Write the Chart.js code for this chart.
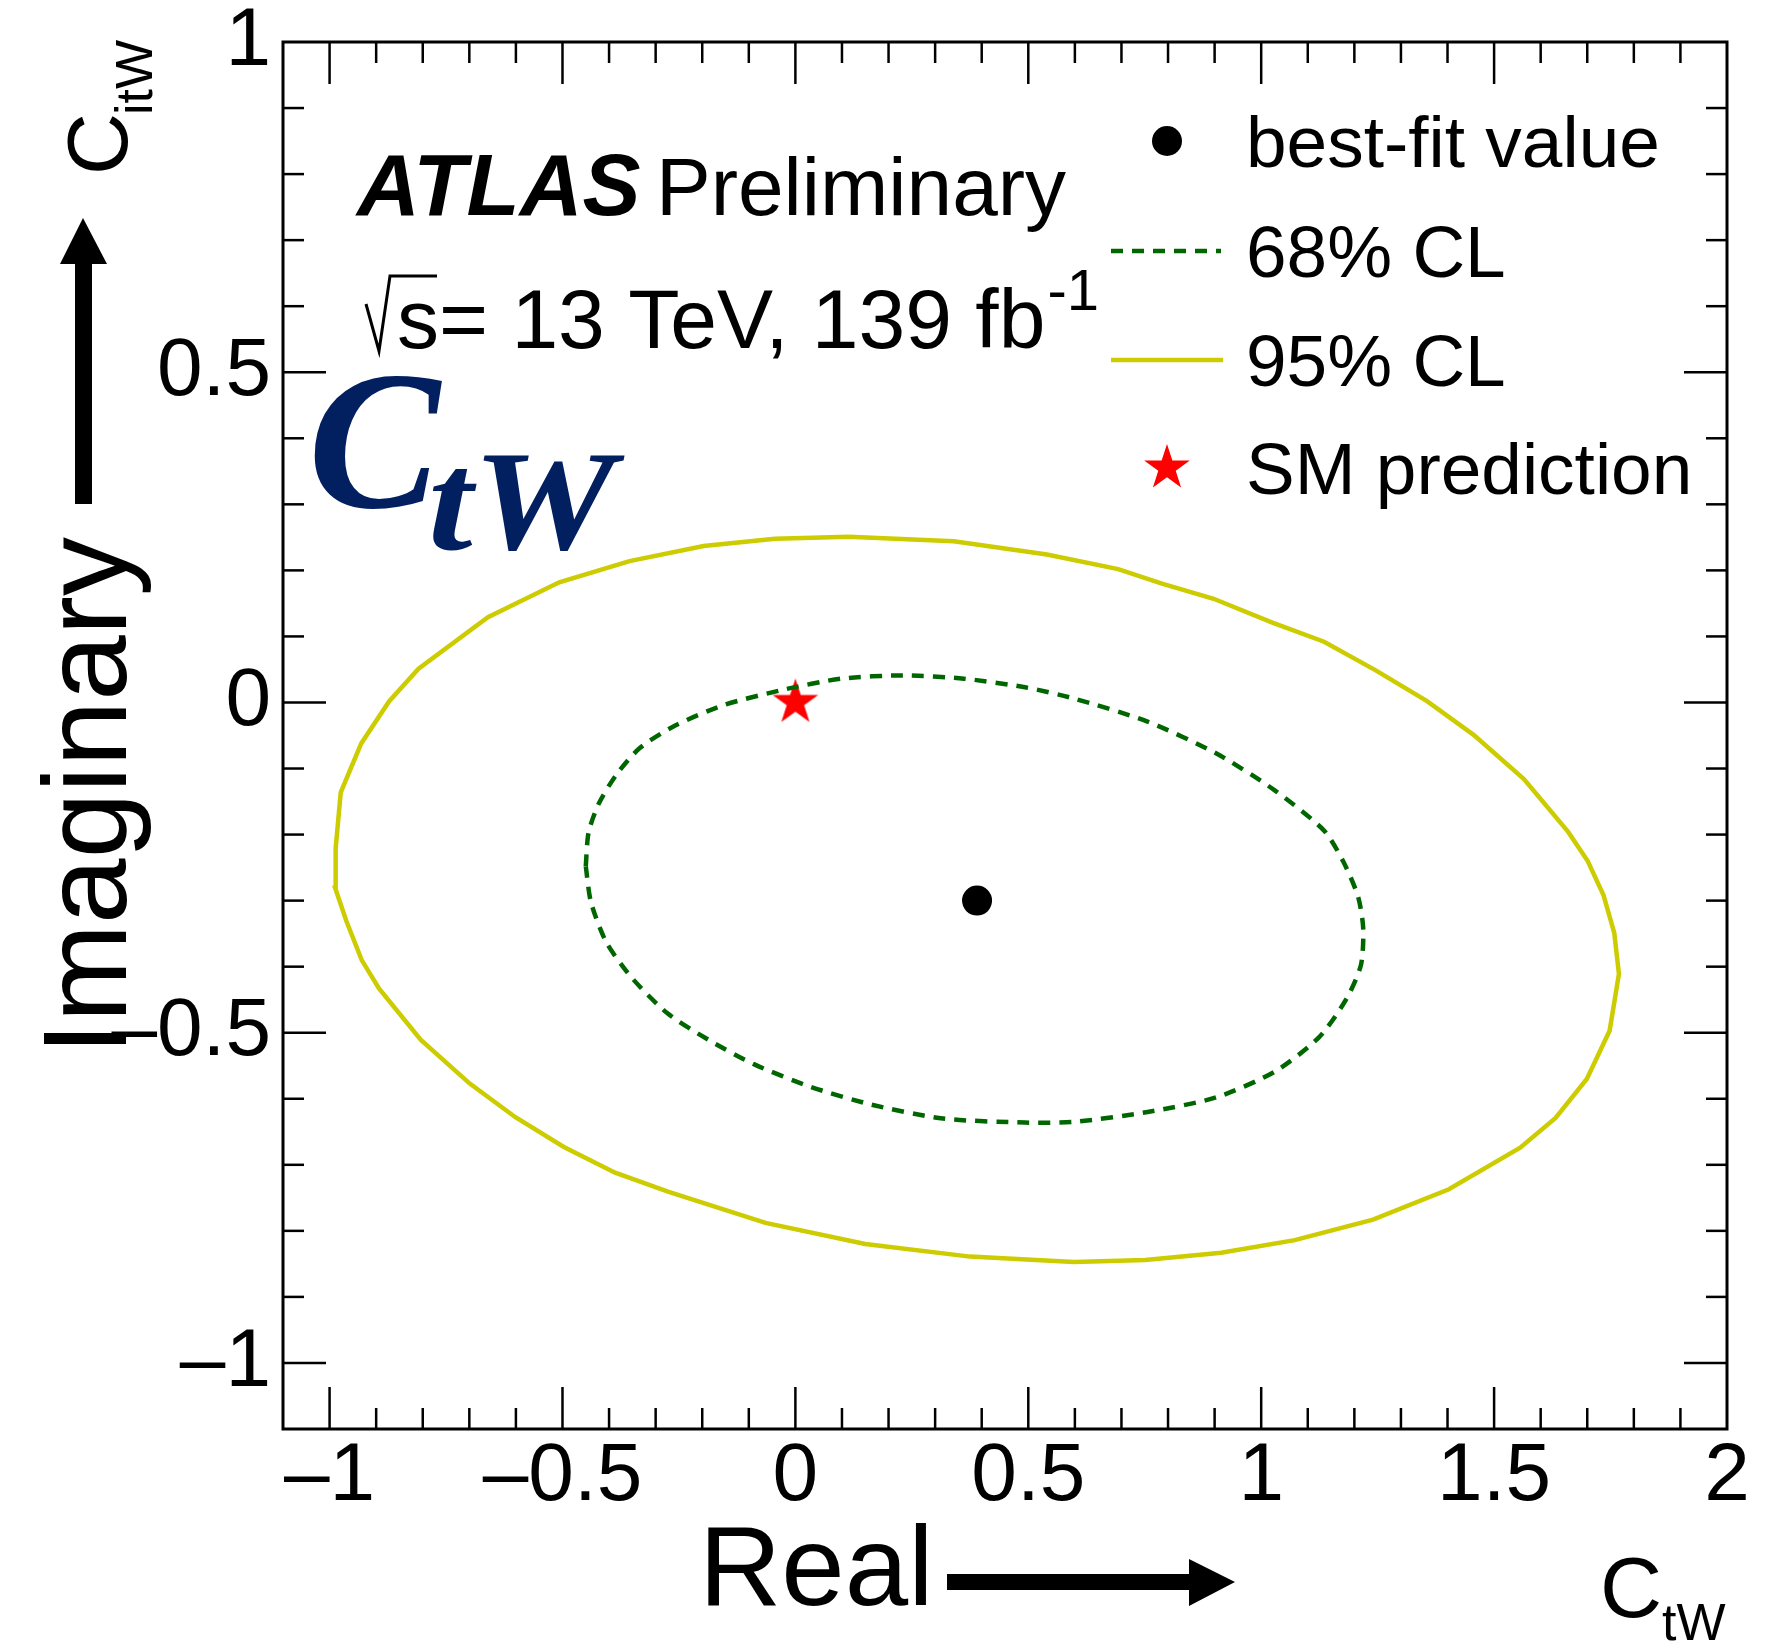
<!DOCTYPE html>
<html>
<head>
<meta charset="utf-8">
<script src="https://cdn.jsdelivr.net/npm/chart.js@4"></script>
<style>
  html, body { margin: 0; padding: 0; background: #fff; }
  #wrap { width: 1768px; height: 1648px; }
</style>
</head>
<body>
<div id="wrap"><canvas id="contour" width="1768" height="1648"></canvas></div>
<script>
const SANS = '"Liberation Sans", Arial, Helvetica, sans-serif';
const SERIF = '"Liberation Serif", "Times New Roman", serif';

// 95% CL contour (Re, Im of c_tW), closed polygon
const cl95Re = [0.115, 0.340, 0.540, 0.693, 0.787, 0.898, 1.024, 1.135, 1.245, 1.356, 1.456, 1.564, 1.659, 1.701, 1.735, 1.758, 1.768, 1.748, 1.699, 1.632, 1.556, 1.403, 1.240, 1.072, 0.914, 0.751, 0.598, 0.375, 0.150, -0.064, -0.272, -0.387, -0.497, -0.601, -0.699, -0.804, -0.894, -0.931, -0.964, -0.988, -0.987, -0.976, -0.932, -0.872, -0.809, -0.660, -0.507, -0.356, -0.197, -0.044, 0.115];
const cl95Im = [0.251, 0.244, 0.224, 0.202, 0.180, 0.157, 0.121, 0.092, 0.049, 0.002, -0.049, -0.116, -0.196, -0.240, -0.292, -0.349, -0.411, -0.497, -0.570, -0.629, -0.674, -0.737, -0.783, -0.814, -0.833, -0.844, -0.847, -0.839, -0.820, -0.788, -0.741, -0.712, -0.673, -0.628, -0.577, -0.511, -0.433, -0.390, -0.331, -0.281, -0.221, -0.136, -0.062, 0.002, 0.051, 0.129, 0.182, 0.214, 0.237, 0.248, 0.251];

// 68% CL contour
const cl68Re = [-0.450, -0.444, -0.422, -0.384, -0.334, -0.258, -0.154, -0.028, 0.098, 0.230, 0.362, 0.493, 0.598, 0.756, 0.903, 1.029, 1.135, 1.177, 1.208, 1.219, 1.214, 1.182, 1.124, 1.029, 0.903, 0.756, 0.598, 0.493, 0.317, 0.164, 0.033, -0.088, -0.186, -0.274, -0.351, -0.406, -0.439, -0.450];
const cl68Im = [-0.248, -0.197, -0.153, -0.109, -0.069, -0.035, -0.004, 0.019, 0.036, 0.041, 0.036, 0.023, 0.006, -0.029, -0.077, -0.133, -0.194, -0.242, -0.294, -0.342, -0.398, -0.450, -0.507, -0.559, -0.598, -0.620, -0.635, -0.636, -0.630, -0.609, -0.582, -0.548, -0.511, -0.471, -0.417, -0.363, -0.302, -0.248];

const bestFit = [0.39, -0.30];
const smPoint = [0, 0];

const xRange = [-1.1, 2];
const yRange = [-1.1, 1];
const xTicks = [-1, -0.5, 0, 0.5, 1, 1.5, 2];
const yTicks = [-1, -0.5, 0, 0.5, 1];

const legendLabels = ["best-fit value", "68% CL", "95% CL", "SM prediction"];

const YELLOW = "#cccc00";
const GREEN = "#006600";
const NAVY = "#022060";

function zip(re, im) {
  return re.map((x, i) => ({ x, y: im[i] }));
}

function tickText(v) {
  return v < 0 ? "\u2013" + String(-v) : String(v);
}

function starImage(r, color) {
  const size = Math.ceil(2 * r + 2);
  const c = document.createElement("canvas");
  c.width = size;
  c.height = size;
  const g = c.getContext("2d");
  g.fillStyle = color;
  g.beginPath();
  for (let i = 0; i < 10; i++) {
    const rad = i % 2 ? r * 0.382 : r;
    const ang = -Math.PI / 2 + (i * Math.PI) / 5;
    g.lineTo(size / 2 + rad * Math.cos(ang), size / 2 + rad * Math.sin(ang));
  }
  g.closePath();
  g.fill();
  return c;
}

const star = starImage(24, "#ff0000");

// box with inward ticks on all four sides, ROOT style
const frame = {
  id: "frame",
  afterDraw(chart) {
    const { ctx, chartArea: a, scales } = chart;
    const seg = (x1, y1, x2, y2) => {
      ctx.beginPath();
      ctx.moveTo(x1, y1);
      ctx.lineTo(x2, y2);
      ctx.stroke();
    };
    ctx.save();
    ctx.strokeStyle = "#000";
    ctx.lineWidth = 2.5;
    for (let k = -10; k < 20; k++) {
      const px = scales.x.getPixelForValue(k / 10);
      const len = k % 5 === 0 ? 42 : 21;
      seg(px, a.bottom, px, a.bottom - len);
      seg(px, a.top, px, a.top + len);
    }
    for (let k = -10; k < 10; k++) {
      const py = scales.y.getPixelForValue(k / 10);
      const len = k % 5 === 0 ? 43 : 21;
      seg(a.left, py, a.left + len, py);
      seg(a.right, py, a.right - len, py);
    }
    ctx.lineWidth = 3;
    ctx.strokeRect(a.left, a.top, a.right - a.left, a.bottom - a.top);
    ctx.restore();
  },
};

function arrow(ctx, pts) {
  ctx.beginPath();
  pts.forEach(([x, y], i) => (i ? ctx.lineTo(x, y) : ctx.moveTo(x, y)));
  ctx.closePath();
  ctx.fill();
}

// axis titles, arrows, labels and legend
const decorations = {
  id: "decorations",
  afterDraw(chart) {
    const ctx = chart.ctx;
    const ds = chart.data.datasets;
    ctx.save();
    ctx.fillStyle = "#000";
    ctx.textBaseline = "alphabetic";
    ctx.textAlign = "left";

    // x title
    ctx.font = `114px ${SANS}`;
    ctx.fillText("Real", 699, 1605);
    arrow(ctx, [[947, 1574], [1189, 1574], [1189, 1559], [1235, 1582], [1189, 1606], [1189, 1590], [947, 1590]]);

    ctx.font = `86px ${SANS}`;
    ctx.fillText("C", 1600, 1617);
    ctx.font = `52px ${SANS}`;
    ctx.fillText("tW", 1662, 1640);

    // y title
    ctx.save();
    ctx.translate(126, 1055);
    ctx.rotate(-Math.PI / 2);
    ctx.font = `118px ${SANS}`;
    ctx.fillText("Imaginary", 0, 0);
    ctx.restore();
    arrow(ctx, [[75, 504], [75, 264], [60, 264], [83, 218], [107, 264], [92, 264], [92, 504]]);

    ctx.save();
    ctx.translate(127, 175);
    ctx.rotate(-Math.PI / 2);
    ctx.font = `86px ${SANS}`;
    ctx.fillText("C", 0, 0);
    ctx.font = `52px ${SANS}`;
    ctx.fillText("itW", 60, 25);
    ctx.restore();

    // experiment label
    ctx.font = `italic bold 87px ${SANS}`;
    ctx.fillText("ATLAS", 357, 215);
    ctx.font = `82px ${SANS}`;
    ctx.fillText("Preliminary", 656, 215);

    ctx.font = `84px ${SANS}`;
    const main = "s= 13 TeV, 139 fb";
    ctx.fillText(main, 397, 348);
    const w = ctx.measureText(main).width;
    ctx.font = `58px ${SANS}`;
    ctx.fillText("-1", 397 + w + 2, 310);
    ctx.strokeStyle = "#000";
    ctx.lineWidth = 3;
    ctx.beginPath();
    ctx.moveTo(366, 304);
    ctx.lineTo(379, 351);
    ctx.lineTo(390, 276);
    ctx.lineTo(437, 276);
    ctx.stroke();

    // operator name
    ctx.fillStyle = NAVY;
    ctx.font = `italic bold 198px ${SERIF}`;
    ctx.fillText("C", 308, 507);
    ctx.save();
    ctx.translate(428, 549);
    ctx.scale(1.13, 1);
    ctx.font = `italic bold 142px ${SERIF}`;
    ctx.fillText("tW", 0, 0);
    ctx.restore();

    // legend
    const lx = 1167;
    const rows = [141, 251, 360, 468];
    ctx.fillStyle = "#000";
    ctx.beginPath();
    ctx.arc(lx, rows[0], ds[2].pointRadius, 0, 2 * Math.PI);
    ctx.fill();

    ctx.lineWidth = ds[1].borderWidth;
    ctx.strokeStyle = ds[1].borderColor;
    ctx.setLineDash(ds[1].borderDash);
    ctx.beginPath();
    ctx.moveTo(1111, rows[1]);
    ctx.lineTo(1221, rows[1]);
    ctx.stroke();
    ctx.setLineDash([]);

    ctx.lineWidth = ds[0].borderWidth;
    ctx.strokeStyle = ds[0].borderColor;
    ctx.beginPath();
    ctx.moveTo(1111, rows[2]);
    ctx.lineTo(1223, rows[2]);
    ctx.stroke();

    ctx.drawImage(star, lx - star.width / 2, rows[3] - star.height / 2);

    ctx.font = `73px ${SANS}`;
    legendLabels.forEach((t, i) => ctx.fillText(t, 1246, rows[i] + 26));
    ctx.restore();
  },
};

new Chart(document.getElementById("contour"), {
  type: "scatter",
  data: {
    datasets: [
      {
        label: "95% CL",
        data: zip(cl95Re, cl95Im),
        showLine: true,
        borderColor: YELLOW,
        borderWidth: 4.5,
        pointRadius: 0,
        fill: false,
        tension: 0,
      },
      {
        label: "68% CL",
        data: zip(cl68Re, cl68Im),
        showLine: true,
        borderColor: GREEN,
        borderWidth: 4.5,
        borderDash: [12, 9],
        pointRadius: 0,
        fill: false,
        tension: 0.25,
      },
      {
        label: "best-fit value",
        data: [{ x: bestFit[0], y: bestFit[1] }],
        pointRadius: 15,
        pointBackgroundColor: "#000",
        pointBorderWidth: 0,
      },
      {
        label: "SM prediction",
        data: [{ x: smPoint[0], y: smPoint[1] }],
        pointStyle: star,
      },
    ],
  },
  options: {
    responsive: false,
    animation: false,
    devicePixelRatio: 1,
    layout: { padding: { top: 42, right: 41, left: 0, bottom: 0 } },
    plugins: { legend: { display: false }, tooltip: { enabled: false } },
    scales: {
      x: {
        type: "linear",
        min: xRange[0],
        max: xRange[1],
        afterBuildTicks: (s) => { s.ticks = xTicks.map((value) => ({ value })); },
        afterFit: (s) => { s.height = 219; },
        grid: { display: false, drawTicks: false },
        border: { display: false },
        ticks: {
          autoSkip: false,
          maxRotation: 0,
          padding: 7,
          color: "#000",
          font: { family: SANS, size: 82, lineHeight: 1 },
          callback: (v) => tickText(v),
        },
      },
      y: {
        type: "linear",
        min: yRange[0],
        max: yRange[1],
        afterBuildTicks: (s) => { s.ticks = yTicks.map((value) => ({ value })); },
        afterFit: (s) => { s.width = 283; s.paddingTop = 0; s.paddingBottom = 0; },
        grid: { display: false, drawTicks: false },
        border: { display: false },
        ticks: {
          autoSkip: false,
          padding: 12,
          color: "#000",
          font: { family: SANS, size: 82, lineHeight: 0.8 },
          callback: (v) => tickText(v),
        },
      },
    },
  },
  plugins: [frame, decorations],
});
</script>
</body>
</html>
